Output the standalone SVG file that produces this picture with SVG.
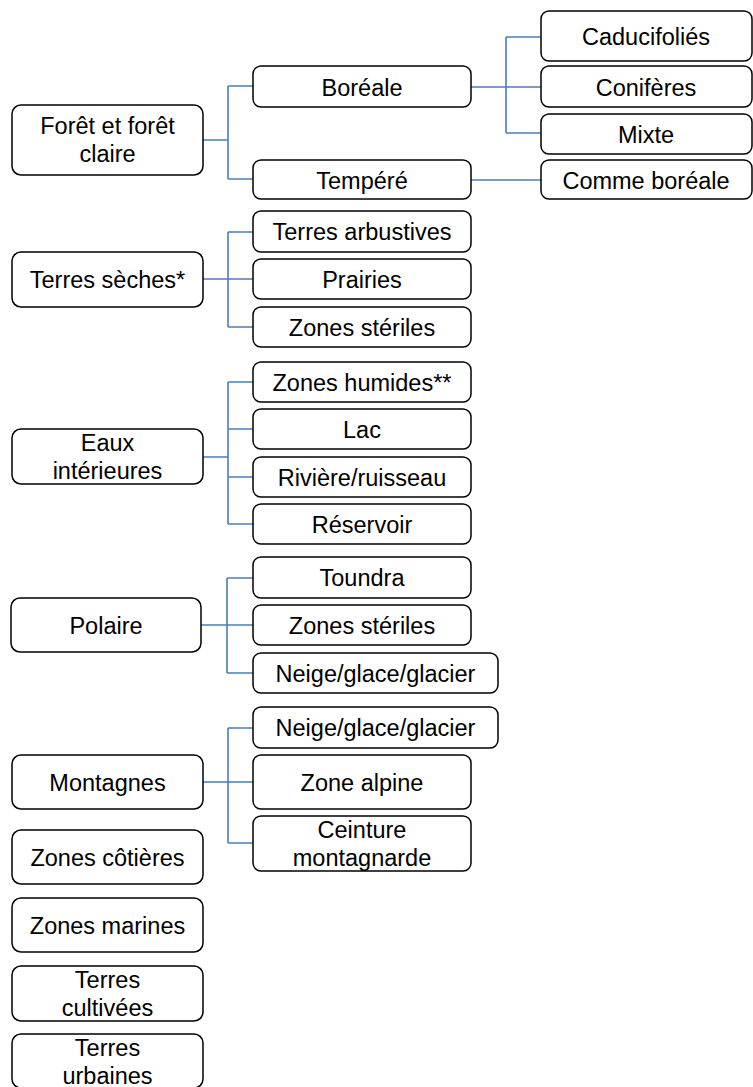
<svg xmlns="http://www.w3.org/2000/svg" width="753" height="1087" viewBox="0 0 753 1087">
<style>
.box{fill:#fff;stroke:#000;stroke-width:1.5}
.t{font-family:"Liberation Sans",Arial,sans-serif;font-size:23.5px;fill:#000;text-anchor:middle}
.c{fill:none;stroke:#4a7ebb;stroke-width:1.6}
</style>
<rect width="753" height="1087" fill="#fff"/>
<g id="connectors">
<path class="c" d="M203 140H228M228 86V179M228 86H253M228 179H253"/>
<path class="c" d="M471 87H506M506 37V133M506 37H541M506 87H541M506 133H541"/>
<path class="c" d="M471 180H541"/>
<path class="c" d="M203 279H228M228 232V327M228 232H253M228 279H253M228 327H253"/>
<path class="c" d="M203 457H228M228 382V524M228 382H253M228 429H253M228 477H253M228 524H253"/>
<path class="c" d="M201 625H227M227 578V673M227 578H253M227 625H253M227 673H253"/>
<path class="c" d="M203 782H228M228 728V843M228 728H253M228 782H253M228 843H253"/>
</g>
<g id="foret"><rect class="box" x="12" y="105" width="191" height="70" rx="9"/><text class="t" x="107.5" y="134">Forêt et forêt</text><text class="t" x="107.5" y="162">claire</text></g>
<g id="boreale"><rect class="box" x="253" y="66" width="218" height="41" rx="8"/><text class="t" x="362" y="95.5">Boréale</text></g>
<g id="tempere"><rect class="box" x="253" y="160" width="218" height="39" rx="8"/><text class="t" x="362" y="188.5">Tempéré</text></g>
<g id="caducifolies"><rect class="box" x="541" y="11" width="211" height="50" rx="8"/><text class="t" x="646" y="44.5">Caducifoliés</text></g>
<g id="coniferes"><rect class="box" x="541" y="66" width="211" height="41" rx="8"/><text class="t" x="646" y="95.5">Conifères</text></g>
<g id="mixte"><rect class="box" x="541" y="114" width="211" height="40" rx="8"/><text class="t" x="646" y="142.5">Mixte</text></g>
<g id="comme-boreale"><rect class="box" x="541" y="160" width="211" height="39" rx="8"/><text class="t" x="646" y="188.5">Comme boréale</text></g>

<g id="terres-seches"><rect class="box" x="12" y="252" width="191" height="55" rx="9"/><text class="t" x="107.5" y="288">Terres sèches*</text></g>
<g id="terres-arbustives"><rect class="box" x="253" y="211" width="218" height="41" rx="8"/><text class="t" x="362" y="240">Terres arbustives</text></g>
<g id="prairies"><rect class="box" x="253" y="259" width="218" height="40" rx="8"/><text class="t" x="362" y="287.5">Prairies</text></g>
<g id="zones-steriles-1"><rect class="box" x="253" y="307" width="218" height="40" rx="8"/><text class="t" x="362" y="335.5">Zones stériles</text></g>

<g id="eaux"><rect class="box" x="12" y="429" width="191" height="55" rx="9"/><text class="t" x="107.5" y="450.5">Eaux</text><text class="t" x="107.5" y="478.5">intérieures</text></g>
<g id="zones-humides"><rect class="box" x="253" y="362" width="218" height="40" rx="8"/><text class="t" x="362" y="390.5">Zones humides**</text></g>
<g id="lac"><rect class="box" x="253" y="409" width="218" height="40" rx="8"/><text class="t" x="362" y="437.5">Lac</text></g>
<g id="riviere"><rect class="box" x="253" y="457" width="218" height="40" rx="8"/><text class="t" x="362" y="485.5">Rivière/ruisseau</text></g>
<g id="reservoir"><rect class="box" x="253" y="504" width="218" height="40" rx="8"/><text class="t" x="362" y="532.5">Réservoir</text></g>

<g id="polaire"><rect class="box" x="11" y="598" width="190" height="54" rx="9"/><text class="t" x="106" y="633.5">Polaire</text></g>
<g id="toundra"><rect class="box" x="253" y="557" width="218" height="41" rx="8"/><text class="t" x="362" y="586">Toundra</text></g>
<g id="zones-steriles-2"><rect class="box" x="253" y="605" width="218" height="40" rx="8"/><text class="t" x="362" y="633.5">Zones stériles</text></g>
<g id="neige-1"><rect class="box" x="253" y="653" width="245" height="40" rx="8"/><text class="t" x="375.5" y="681.5">Neige/glace/glacier</text></g>

<g id="montagnes"><rect class="box" x="12" y="755" width="191" height="54" rx="9"/><text class="t" x="107.5" y="790.5">Montagnes</text></g>
<g id="neige-2"><rect class="box" x="253" y="707" width="245" height="41" rx="8"/><text class="t" x="375.5" y="736">Neige/glace/glacier</text></g>
<g id="zone-alpine"><rect class="box" x="253" y="755" width="218" height="54" rx="8"/><text class="t" x="362" y="790.5">Zone alpine</text></g>
<g id="ceinture"><rect class="box" x="253" y="816" width="218" height="55" rx="8"/><text class="t" x="362" y="837.5">Ceinture</text><text class="t" x="362" y="865.5">montagnarde</text></g>

<g id="zones-cotieres"><rect class="box" x="12" y="830" width="191" height="54" rx="9"/><text class="t" x="107.5" y="865.5">Zones côtières</text></g>
<g id="zones-marines"><rect class="box" x="12" y="898" width="191" height="54" rx="9"/><text class="t" x="107.5" y="933.5">Zones marines</text></g>
<g id="terres-cultivees"><rect class="box" x="12" y="966" width="191" height="55" rx="9"/><text class="t" x="107.5" y="987.5">Terres</text><text class="t" x="107.5" y="1015.5">cultivées</text></g>
<g id="terres-urbaines"><rect class="box" x="12" y="1034" width="191" height="54" rx="9"/><text class="t" x="107.5" y="1055.5">Terres</text><text class="t" x="107.5" y="1083.5">urbaines</text></g>
</svg>
